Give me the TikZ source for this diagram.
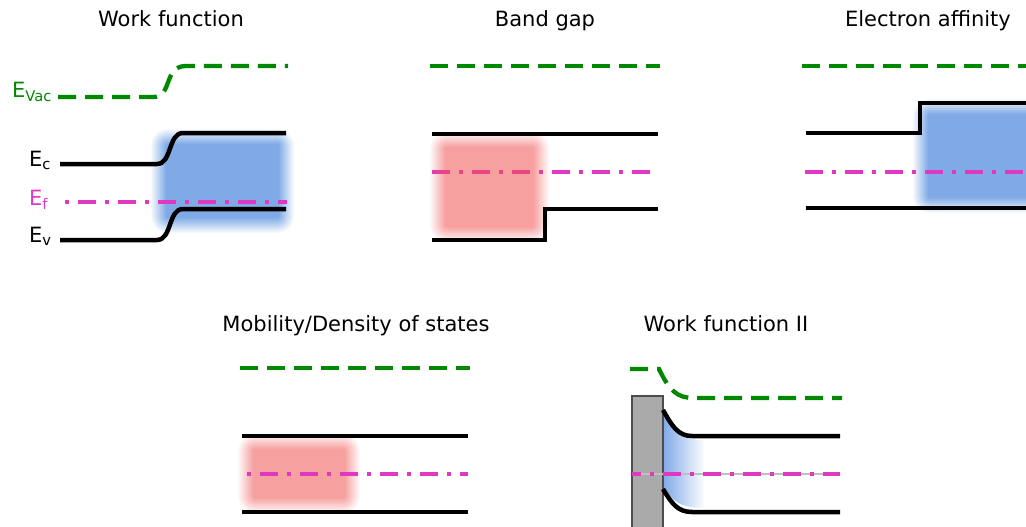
\documentclass[tikz,border=0pt]{standalone}
\usepackage{fontspec}
\setmainfont{DejaVu Sans}
\usepackage{tikz}
\usetikzlibrary{fadings}

\definecolor{vacgreen}{RGB}{0,136,0}
\definecolor{fermimag}{RGB}{224,56,192}
\definecolor{bandblue}{RGB}{128,170,230}
\definecolor{bandpink}{RGB}{246,160,160}
\definecolor{deeppink}{RGB}{239,82,82}
\definecolor{metalgray}{RGB}{170,170,170}

\tikzfading[name=bluefade, left color=transparent!0, middle color=transparent!25, right color=transparent!100]

% soft edged box: colour, x1, y1, x2, y2
\newcommand{\softbox}[5]{%
	\foreach \n [evaluate=\n as \g using 9-\n, evaluate=\n as \op using 1/(17-\n),
		evaluate=\n as \rr using 18-\n] in {1,...,16}
		\fill[#1, fill opacity=\op, rounded corners=\rr pt] ({#2-\g},{#3-\g}) rectangle ({#4+\g},{#5+\g});
}

\begin{document}
\begin{tikzpicture}[x=1pt, y=-1pt,
	vac/.style={vacgreen, line width=4.3pt, dash pattern=on 18pt off 9pt},
	fermi/.style={fermimag, line width=4pt, dash pattern=on 18pt off 9pt on 4pt off 9pt},
	band/.style={black, line width=4.5pt},
	title/.style={font=\fontsize{21}{25}\selectfont, anchor=base, inner sep=0pt},
	lbl/.style={font=\fontsize{21}{25}\selectfont, anchor=base west, inner sep=0pt}]
	\useasboundingbox (0, 0) rectangle (1026, 527);

	% work function
	\node[title] (wf) at (171, 27) {Work function};
	\softbox{bandblue}{159}{137}{286}{225}
	\draw[vac] (58, 97) -- (153, 97) .. controls (173, 97) and (163, 66) .. (186, 66) -- (288, 66);
	\draw[band] (60, 164) -- (157, 164) .. controls (172, 164) and (168, 133) .. (183, 133) -- (286, 133);
	\draw[band] (60, 240) -- (157, 240) .. controls (172, 240) and (168, 209) .. (183, 209) -- (286, 209);
	\draw[fermi, dash phase=22pt] (60, 202) -- (287, 202);
	\node[lbl, vacgreen] (evac) at (12, 98) {E\textsubscript{Vac}};
	\node[lbl] (ec) at (29, 166) {E\textsubscript{c}};
	\node[lbl, fermimag] (ef) at (29, 205) {E\textsubscript{f}};
	\node[lbl] (ev) at (29, 242) {E\textsubscript{v}};

	% band gap
	\node[title] (bg) at (545, 27) {Band gap};
	\draw[fermi] (432, 172) -- (658, 172);
	\begin{scope}[transparency group, opacity=0.55]
		\softbox{deeppink}{438}{140}{541}{234}
	\end{scope}
	\draw[vac] (430, 66) -- (660, 66);
	\draw[band] (432, 134) -- (658, 134);
	\draw[band] (432, 240) -- (545, 240) -- (545, 209) -- (658, 209);

	% electron affinity
	\node[title] (ea) at (928, 27) {Electron affinity};
	\softbox{bandblue}{921}{107}{1045}{205}
	\draw[vac] (802, 66) -- (1026, 66);
	\draw[band] (806, 133) -- (920, 133) -- (920, 103) -- (1026, 103);
	\draw[fermi] (805, 172) -- (1026, 172);
	\draw[band] (806, 208) -- (1026, 208);

	% mobility / density of states
	\node[title] (mob) at (356, 331) {Mobility/Density of states};
	\softbox{bandpink}{246}{442}{352}{505}
	\draw[vac] (240, 368) -- (470, 368);
	\draw[band] (242, 436) -- (468, 436);
	\draw[fermi, dash phase=22pt] (242, 474) -- (468, 474);
	\draw[band] (242, 512) -- (468, 512);

	% work function II
	\node[title] (wf2) at (726, 331) {Work function II};
	\fill[bandblue, path fading=bluefade] (663, 414) .. controls (672, 429) and (678, 440) .. (705, 440)
		-- (705, 508) .. controls (678, 508) and (672, 500) .. (663, 486) -- cycle;
	\draw[fill=metalgray, draw=black!70, line width=1.3pt] (632, 396) rectangle (663, 540);
	\draw[vac] (630, 369) -- (659, 369) .. controls (670, 392) and (678, 398) .. (694, 398) -- (842, 398);
	\draw[band] (663, 410) .. controls (672, 426) and (678, 436) .. (692, 436) -- (840, 436);
	\draw[band] (663, 489) .. controls (672, 504) and (678, 512) .. (692, 512) -- (840, 512);
	\draw[black!25, line width=1.3pt] (632, 474) -- (840, 474);
	\draw[fermi, dash phase=9pt] (632, 474) -- (840, 474);
\end{tikzpicture}
\end{document}
